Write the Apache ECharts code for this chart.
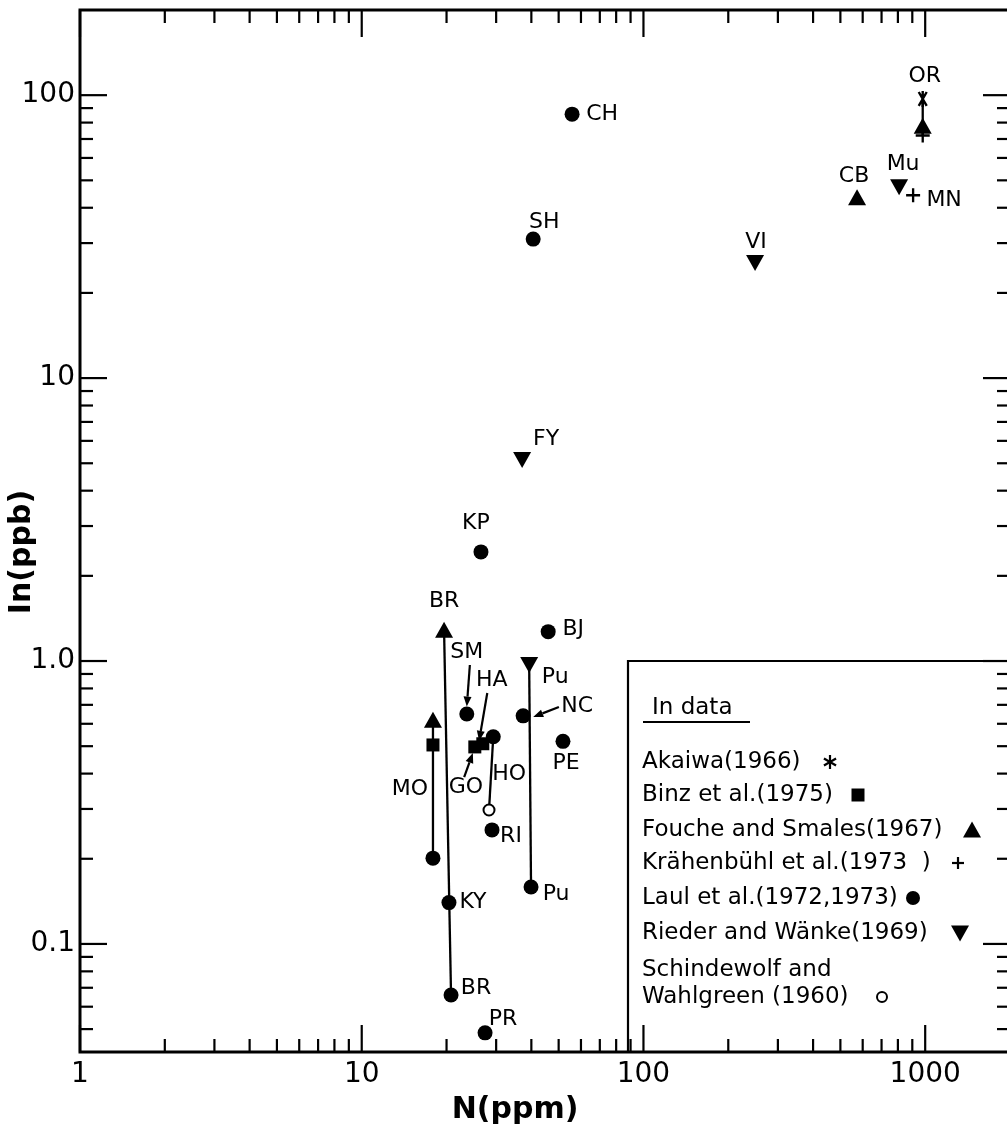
<!DOCTYPE html>
<html>
<head>
<meta charset="utf-8">
<title>In vs N</title>
<script src="https://cdn.jsdelivr.net/npm/echarts@6/dist/echarts.min.js"></script>
<style>
    html, body { margin: 0; padding: 0; background: #fff; }
    #chart { width: 1007px; height: 1130px; }
</style>
</head>
<body>
<div id="chart"></div>
<script>
(function() {

    // axis ranges and tick labels
    const xMin = 1, xMax = 2000;
    const yMin = 0.0415, yMax = 200;
    const xTickValues = [1, 10, 100, 1000];
    const xTickLabels = ['1', '10', '100', '1000'];
    const yTickValues = [0.1, 1, 10, 100];
    const yTickLabels = ['0.1', '1.0', '10', '100'];
    const minorSteps = [2, 3, 4, 5, 6, 7, 8, 9];

    // N (ppm) and In (ppb) for each source
    const akaiwaNames = ['OR'];
    const akaiwaN = [980];
    const akaiwaIn = [97];

    const binzNames = ['MO', 'GO', 'HA'];
    const binzN = [17.9, 25.2, 26.9];
    const binzIn = [0.505, 0.497, 0.51];

    const foucheNames = ['OR', 'CB', 'BR', 'MO'];
    const foucheN = [980, 573, 19.6, 17.9];
    const foucheIn = [78, 43.6, 1.29, 0.62];

    const krahenbuhlNames = ['OR', 'MN'];
    const krahenbuhlN = [980, 906];
    const krahenbuhlIn = [72, 44.3];

    const laulNames = ['CH', 'SH', 'KP', 'BJ', 'SM', 'HO', 'NC', 'PE', 'RI', 'MO', 'KY', 'Pu', 'BR', 'PR'];
    const laulN = [55.8, 40.6, 26.5, 45.9, 23.6, 29.3, 37.4, 51.8, 29.0, 17.9, 20.4, 39.9, 20.75, 27.4];
    const laulIn = [85.7, 31.0, 2.43, 1.27, 0.65, 0.54, 0.64, 0.52, 0.253, 0.201, 0.14, 0.159, 0.066, 0.0485];

    const riederNames = ['VI', 'Mu', 'FY', 'Pu'];
    const riederN = [249, 808, 37.1, 39.3];
    const riederIn = [25.5, 47.3, 5.13, 0.968];

    const schindewolfNames = ['HO'];
    const schindewolfN = [28.3];
    const schindewolfIn = [0.2975];

    // same sample measured by two sources -> joined by a line
    const links = [
        ['akaiwa', 'OR', 'krahenbuhl', 'OR'],
        ['fouche', 'MO', 'laul', 'MO'],
        ['fouche', 'BR', 'laul', 'BR'],
        ['laul', 'HO', 'schindewolf', 'HO'],
        ['rieder', 'Pu', 'laul', 'Pu']
    ];

    // label arrows (SM, HA, GO, NC), in data units
    const arrowFrom = [[24.2, 0.968], [27.9, 0.771], [23.1, 0.389], [50.1, 0.688]];
    const arrowTo = [[23.6, 0.69], [26.1, 0.522], [24.8, 0.473], [40.6, 0.634]];

    const legendTitle = 'In data';
    const legendLines = [
        'Akaiwa(1966)',
        'Binz et al.(1975)',
        'Fouche and Smales(1967)',
        'Krähenbühl et al.(1973  )',
        'Laul et al.(1972,1973)',
        'Rieder and Wänke(1969)',
        'Schindewolf and',
        'Wahlgreen (1960)'
    ];

    // ---- styling / layout ----
    const FONT = "'DejaVu Sans', sans-serif";

    const labelOffsets = {
        'akaiwa:OR': [2, -23],
        'binz:GO': [-9, 40],
        'binz:HA': [9, -63],
        'fouche:CB': [-3, -21],
        'fouche:BR': [0, -28],
        'fouche:MO': [-23, 70],
        'krahenbuhl:MN': [31, 5],
        'laul:CH': [30, 0],
        'laul:SH': [11, -17],
        'laul:KP': [-5, -29],
        'laul:BJ': [25, -2],
        'laul:SM': [0, -62],
        'laul:HO': [16, 38],
        'laul:NC': [54, -10],
        'laul:PE': [3, 22],
        'laul:RI': [19, 6],
        'laul:KY': [24, 0],
        'laul:Pu': [25, 7],
        'laul:BR': [25, -7],
        'laul:PR': [18, -14],
        'rieder:VI': [1, -21],
        'rieder:Mu': [4, -23],
        'rieder:FY': [24, -21],
        'rieder:Pu': [26, 12]
    };

    const asteriskPath = 'path://M-0.9,-6L0.9,-6L0.9,6L-0.9,6Z' +
        'M-3.779,-4.746L-2.221,-5.646L3.779,4.746L2.221,5.646Z' +
        'M-2.221,5.646L-3.779,4.746L2.221,-5.646L3.779,-4.746Z';
    const plusPath = 'path://M-1,-6H1V-1H6V1H1V6H-1V1H-6V-1H-1Z';

    const sources = {
        akaiwa: { names: akaiwaNames, n: akaiwaN, v: akaiwaIn, symbol: asteriskPath, size: 16 },
        binz: { names: binzNames, n: binzN, v: binzIn, symbol: 'rect', size: 13 },
        fouche: { names: foucheNames, n: foucheN, v: foucheIn, symbol: 'triangle', size: [18, 16] },
        krahenbuhl: { names: krahenbuhlNames, n: krahenbuhlN, v: krahenbuhlIn, symbol: plusPath, size: 14 },
        laul: { names: laulNames, n: laulN, v: laulIn, symbol: 'circle', size: 15 },
        rieder: { names: riederNames, n: riederN, v: riederIn, symbol: 'triangle', size: [18, 16], rotate: 180 },
        schindewolf: { names: schindewolfNames, n: schindewolfN, v: schindewolfIn, symbol: 'circle', size: 11, open: true }
    };

    function lookup(key, name) {
        const s = sources[key];
        const i = s.names.indexOf(name);
        return [s.n[i], s.v[i]];
    }

    function decadeLabel(v, values, labels) {
        for (let i = 0; i < values.length; i++) {
            if (Math.abs(v / values[i] - 1) < 1e-6) return labels[i];
        }
        return '';
    }

    const chart = echarts.init(document.getElementById('chart'));

    // tick lists (all four sides, pointing inward)
    let xTicks = [], yTicks = [];
    xTickValues.forEach((d) => {
        xTicks.push([d, yMin, 1]);
        minorSteps.forEach((m) => { if (d * m < xMax) xTicks.push([d * m, yMin, 0]); });
    });
    [0.01].concat(yTickValues).forEach((d) => {
        if (d >= yMin) yTicks.push([xMin, d, 1]);
        minorSteps.forEach((m) => {
            if (d * m > yMin && d * m < yMax) yTicks.push([xMin, d * m, 0]);
        });
    });

    const tickStyle = { stroke: '#000', lineWidth: 2.2 };

    let series = [];

    series.push({
        type: 'custom', name: 'xticks', silent: true, z: 1,
        encode: { x: 0, y: 1 },
        renderItem: function(params, api) {
            const v = api.value(0);
            const len = api.value(2) === 1 ? 27 : 13;
            const b = api.coord([v, yMin]);
            const t = api.coord([v, yMax]);
            return { type: 'group', children: [
                { type: 'line', shape: { x1: b[0], y1: b[1], x2: b[0], y2: b[1] - len }, style: tickStyle },
                { type: 'line', shape: { x1: t[0], y1: t[1], x2: t[0], y2: t[1] + len }, style: tickStyle }
            ] };
        },
        data: xTicks
    });

    series.push({
        type: 'custom', name: 'yticks', silent: true, z: 1,
        encode: { x: 0, y: 1 },
        renderItem: function(params, api) {
            const v = api.value(1);
            const len = api.value(2) === 1 ? 27 : 13;
            const l = api.coord([xMin, v]);
            const r = api.coord([xMax, v]);
            return { type: 'group', children: [
                { type: 'line', shape: { x1: l[0], y1: l[1], x2: l[0] + len, y2: l[1] }, style: tickStyle },
                { type: 'line', shape: { x1: r[0], y1: r[1], x2: r[0] - len, y2: r[1] }, style: tickStyle }
            ] };
        },
        data: yTicks
    });

    // connecting lines
    series.push({
        type: 'custom', name: 'links', silent: true, z: 2,
        encode: { x: [0, 2], y: [1, 3] },
        renderItem: function(params, api) {
            const p1 = api.coord([api.value(0), api.value(1)]);
            const p2 = api.coord([api.value(2), api.value(3)]);
            return { type: 'line', shape: { x1: p1[0], y1: p1[1], x2: p2[0], y2: p2[1] },
                style: { stroke: '#000', lineWidth: 2.3 } };
        },
        data: links.map((l) => lookup(l[0], l[1]).concat(lookup(l[2], l[3])))
    });

    // label arrows
    series.push({
        type: 'custom', name: 'arrows', silent: true, z: 2,
        encode: { x: [0, 2], y: [1, 3] },
        renderItem: function(params, api) {
            const p1 = api.coord([api.value(0), api.value(1)]);
            const p2 = api.coord([api.value(2), api.value(3)]);
            const dx = p2[0] - p1[0], dy = p2[1] - p1[1];
            const L = Math.sqrt(dx * dx + dy * dy);
            const ux = dx / L, uy = dy / L;
            const hl = 10, hw = 4;
            const bx = p2[0] - ux * hl, by = p2[1] - uy * hl;
            return { type: 'group', children: [
                { type: 'line', shape: { x1: p1[0], y1: p1[1], x2: bx, y2: by },
                    style: { stroke: '#000', lineWidth: 2.2 } },
                { type: 'polygon', shape: { points: [[p2[0], p2[1]], [bx - uy * hw, by + ux * hw], [bx + uy * hw, by - ux * hw]] },
                    style: { fill: '#000' } }
            ] };
        },
        data: arrowFrom.map((f, i) => f.concat(arrowTo[i]))
    });

    // point series
    Object.keys(sources).forEach((key) => {
        const s = sources[key];
        series.push({
            type: 'scatter',
            name: key,
            z: 3,
            silent: true,
            symbol: s.symbol,
            symbolSize: s.size,
            symbolRotate: s.rotate || 0,
            symbolKeepAspect: true,
            itemStyle: s.open
                ? { color: '#fff', borderColor: '#000', borderWidth: 2, opacity: 1 }
                : { color: '#000', opacity: 1 },
            label: {
                show: false,
                position: 'inside',
                formatter: '{b}',
                color: '#000',
                textBorderWidth: 0,
                fontSize: 22,
                fontFamily: FONT
            },
            data: s.names.map((nm, i) => {
                const off = labelOffsets[key + ':' + nm];
                return {
                    name: nm,
                    value: [s.n[i], s.v[i]],
                    label: off ? { show: true, offset: off } : { show: false }
                };
            })
        });
    });

    // legend box, drawn as graphics (marks sit after the text)
    const legendX = 642;
    const legendRowY = [762, 795, 830, 863, 898, 933, 970, 997];
    const legendMarkX = [830, 858, 972, 958, 913, 960, null, 882];
    const legendKinds = ['asterisk', 'square', 'up', 'plus', 'dot', 'down', null, 'open'];

    function legendMark(kind, cx, cy) {
        const st = { fill: '#000' };
        const ln = { stroke: '#000', lineWidth: 2.2 };
        if (kind === 'square') return [{ type: 'rect', shape: { x: cx - 6.5, y: cy - 6.5, width: 13, height: 13 }, style: st }];
        if (kind === 'dot') return [{ type: 'circle', shape: { cx: cx, cy: cy, r: 7 }, style: st }];
        if (kind === 'open') return [{ type: 'circle', shape: { cx: cx, cy: cy, r: 5 }, style: { fill: '#fff', stroke: '#000', lineWidth: 2 } }];
        if (kind === 'up') return [{ type: 'polygon', shape: { points: [[cx, cy - 8.5], [cx + 9, cy + 7.5], [cx - 9, cy + 7.5]] }, style: st }];
        if (kind === 'down') return [{ type: 'polygon', shape: { points: [[cx, cy + 8.5], [cx + 9, cy - 7.5], [cx - 9, cy - 7.5]] }, style: st }];
        if (kind === 'plus') return [
            { type: 'line', shape: { x1: cx - 6, y1: cy, x2: cx + 6, y2: cy }, style: ln },
            { type: 'line', shape: { x1: cx, y1: cy - 6, x2: cx, y2: cy + 6 }, style: ln }
        ];
        if (kind === 'asterisk') return [0, 60, 120].map((a) => {
            const r = a * Math.PI / 180;
            return { type: 'line', shape: { x1: cx - 7 * Math.sin(r), y1: cy - 7 * Math.cos(r), x2: cx + 7 * Math.sin(r), y2: cy + 7 * Math.cos(r) }, style: ln };
        });
        return [];
    }

    let graphics = [
        { type: 'rect', shape: { x: 628, y: 661, width: 400, height: 391 }, style: { fill: 'none', stroke: '#000', lineWidth: 2.2 }, z: 10 },
        { type: 'text', x: 652, y: 708, style: { text: legendTitle, font: '23px ' + FONT, fill: '#000', verticalAlign: 'middle' }, z: 10 },
        { type: 'line', shape: { x1: 643, y1: 722, x2: 750, y2: 722 }, style: { stroke: '#000', lineWidth: 2 }, z: 10 },
        { type: 'text', x: 515, y: 1110, style: { text: 'N(ppm)', font: 'bold 30px ' + FONT, fill: '#000', align: 'center', verticalAlign: 'middle' } },
        { type: 'text', x: 22, y: 552, rotation: Math.PI / 2, style: { text: 'In(ppb)', font: 'bold 30px ' + FONT, fill: '#000', align: 'center', verticalAlign: 'middle' } }
    ];
    legendLines.forEach((txt, i) => {
        graphics.push({ type: 'text', x: legendX, y: legendRowY[i], z: 10,
            style: { text: txt, font: '23px ' + FONT, fill: '#000', verticalAlign: 'middle' } });
        if (legendKinds[i]) {
            legendMark(legendKinds[i], legendMarkX[i], legendRowY[i]).forEach((g) => {
                g.z = 10;
                graphics.push(g);
            });
        }
    });

    const option = {
        animation: false,
        backgroundColor: '#fff',
        grid: {
            show: true,
            left: 80,
            top: 10,
            width: 930,
            height: 1042,
            borderColor: '#000',
            borderWidth: 3,
            outerBoundsMode: 'none'
        },
        xAxis: {
            type: 'log',
            logBase: 10,
            min: xMin,
            max: xMax,
            axisLine: { show: false },
            axisTick: { show: false },
            splitLine: { show: false },
            axisLabel: {
                margin: 9,
                fontSize: 28,
                color: '#000',
                fontFamily: FONT,
                formatter: (v) => decadeLabel(v, xTickValues, xTickLabels)
            }
        },
        yAxis: {
            type: 'log',
            logBase: 10,
            min: yMin,
            max: yMax,
            axisLine: { show: false },
            axisTick: { show: false },
            splitLine: { show: false },
            axisLabel: {
                margin: 5,
                fontSize: 28,
                color: '#000',
                fontFamily: FONT,
                formatter: (v) => decadeLabel(v, yTickValues, yTickLabels)
            }
        },
        graphic: graphics,
        series: series
    };

    chart.setOption(option);
})();
</script>
</body>
</html>
